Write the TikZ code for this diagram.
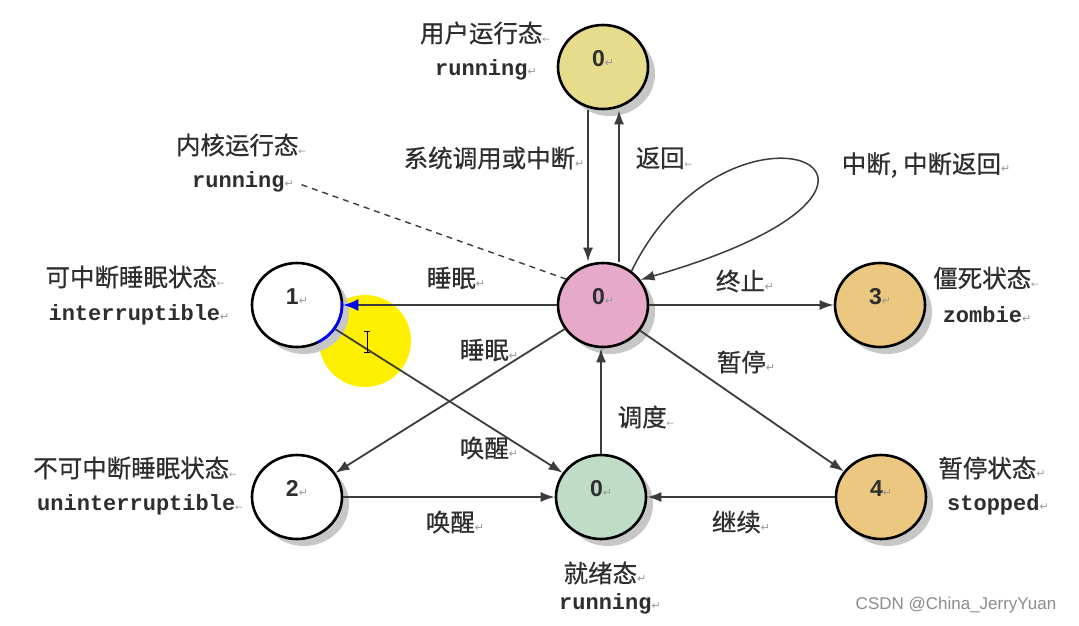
\documentclass[tikz,border=0pt]{standalone}
\usepackage{fontspec}
\usetikzlibrary{shapes.geometric,arrows.meta,shadows}
\newfontfamily\cjk[FakeBold=0.6]{Noto Sans CJK SC}
\newfontfamily\monof{Liberation Mono}
\newfontfamily\dejavu{DejaVu Sans}
\newfontfamily\lsans{Liberation Sans}
\definecolor{txt}{HTML}{2E2E2E}
\definecolor{markgray}{HTML}{9A9A9A}
\definecolor{linegray}{HTML}{3C3C3C}
\definecolor{cyel}{HTML}{E6DC8C}
\definecolor{cpink}{HTML}{E6A9C9}
\definecolor{corange}{HTML}{EBC77F}
\definecolor{cgreen}{HTML}{BFDCC6}
\definecolor{hilite}{HTML}{FFF000}
\definecolor{wm}{HTML}{8C8C8C}
\newcommand{\rt}{{\dejavu\mdseries\fontsize{11}{11}\selectfont\color{markgray}↵}}
\newcommand{\la}{{\dejavu\mdseries\fontsize{9}{9}\selectfont\color{markgray}←}}
\newcommand{\dg}[1]{\raisebox{1pt}[0pt][0pt]{#1\rt}}
\begin{document}
\begin{tikzpicture}[x=1pt,y=-1pt,
  state/.style={ellipse, draw=black, line width=2.6pt, minimum width=90pt, minimum height=84pt,
    inner sep=0pt, font=\lsans\bfseries\fontsize{23}{23}\selectfont, text=txt,
    drop shadow={shadow xshift=7pt, shadow yshift=-7pt, fill=black!22, opacity=1}},
  edge/.style={draw=linegray, line width=1.8pt, -{Latex[length=14pt,width=10pt]}},
  cn/.style={font=\cjk\fontsize{24.5}{24.5}\selectfont, text=txt, inner sep=0pt},
  en/.style={font=\monof\bfseries\fontsize{22}{22}\selectfont, text=txt, inner sep=0pt},
]
\useasboundingbox (0,0) rectangle (1079,625);
\fill[white] (0,0) rectangle (1079,625);

% highlight of the screen recording
\fill[hilite] (365,341) circle[radius=46pt];

% states
\node[state, fill=cyel]    (U)  at (603,67)  {\dg{0}};
\node[state, fill=cpink]   (K)  at (603,305) {\dg{0}};
\node[state, fill=white]   (S1) at (297,305) {\dg{1}};
\node[state, fill=corange] (Z)  at (880,305) {\dg{3}};
\node[state, fill=white]   (S2) at (297,497) {\dg{2}};
\node[state, fill=cgreen]  (R)  at (601,497) {\dg{0}};
\node[state, fill=corange] (T)  at (881,497) {\dg{4}};

% blue arc on state 1
\draw[blue, line width=2.6pt] ([shift={(-62:45pt and 42pt)}]S1.center) arc[start angle=-62, end angle=5, x radius=45pt, y radius=42pt];

% text labels
\node[cn] (ulab) at (485,33) {用户运行态\la};
\node[en] (urun) at (486,70) {running\rt};
\node[cn] (klab) at (241,145) {内核运行态\la};
\node[en] (krun) at (243,182) {running\rt};
\node[cn] (s1lab) at (135,277) {可中断睡眠状态\la};
\node[en] (s1en) at (139,315) {interruptible\rt};
\node[cn] (s2lab) at (135,468) {不可中断睡眠状态\la};
\node[en] (s2en) at (140,505) {uninterruptible\la};
\node[cn] (zlab) at (986,278) {僵死状态\la};
\node[en] (zen) at (987,315) {zombie\rt};
\node[cn] (tlab) at (992,468) {暂停状态\rt};
\node[en] (ten) at (998,505) {stopped\rt};
\node[cn] (rlab) at (605,573) {就绪态\rt};
\node[en] (ren) at (610,604) {running\rt};

% edge labels
\node[cn] (l1) at (494,158) {系统调用或中断\rt};
\node[cn] (l2) at (664,158) {返回\la};
\node[cn] (l3) at (926,165) {中断, 中断返回\rt};
\node[cn] (l4) at (456,278) {睡眠\rt};
\node[cn] (l5) at (745,281) {终止\rt};
\node[cn] (l6) at (489,350) {睡眠\rt};
\node[cn] (l7) at (746,362) {暂停\rt};
\node[cn] (l8) at (646,417) {调度\la};
\node[cn] (l9) at (489,448) {唤醒\rt};
\node[cn] (l10) at (455,522) {唤醒\rt};
\node[cn] (l11) at (741,522) {继续\rt};

% connectors
\draw[edge] ([xshift=-15pt]U.south) -- ([xshift=-15pt]K.north);
\draw[edge] ([xshift=16pt]K.north) -- ([xshift=16pt]U.south);
\draw[edge, line width=1.5pt] (K.50) .. controls (730,70) and (985,180) .. (K.34);
\draw[draw=linegray, line width=1.4pt, dash pattern=on 6pt off 5pt, shorten <=8pt] (krun.east) -- (K.145);
\draw[draw=linegray, line width=1.8pt, -{Latex[length=15pt,width=12pt,color=blue]}] (K.west) -- (S1.east);
\draw[edge] (K.east) -- (Z.west);
\draw[edge] (K) -- (S2);
\draw[edge] (S1) -- (R);
\draw[edge] (K) -- (T);
\draw[edge] (R.north) -- (R.north |- K.south);
\draw[edge] (S2.east) -- (R.west);
\draw[edge] (T.west) -- (R.east);

% text cursor
\draw[black, line width=1pt] (367,331) -- (367,352) (364,331) -- (370,331) (364,352) -- (370,352);

% watermark
\node[font=\lsans\fontsize{17}{17}\selectfont, text=wm, inner sep=0pt] (wmk) at (956,605) {CSDN @China\_JerryYuan};
\end{tikzpicture}
\end{document}
